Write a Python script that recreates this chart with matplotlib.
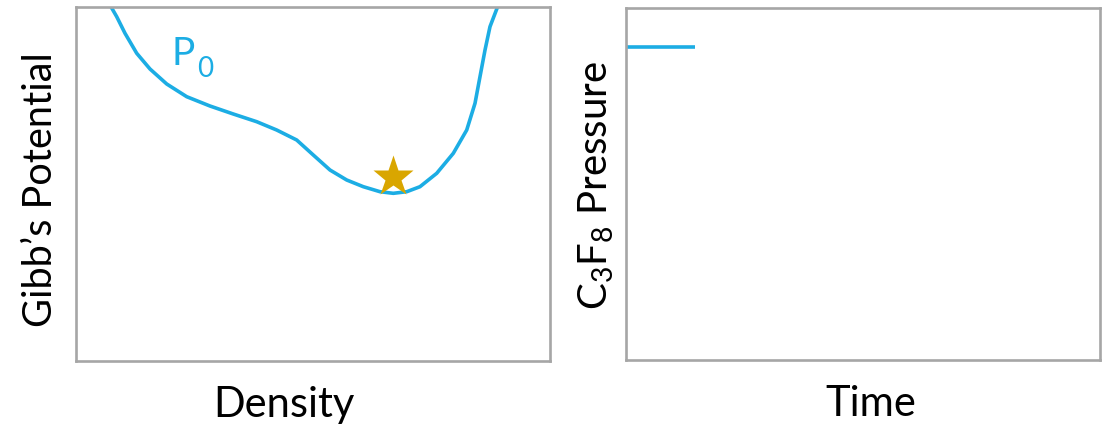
import matplotlib
matplotlib.use("Agg")
import matplotlib.pyplot as plt

plt.rcParams["font.family"] = ["Lato", "DejaVu Sans"]
plt.rcParams["mathtext.fontset"] = "custom"
plt.rcParams["mathtext.rm"] = "Lato"
plt.rcParams["mathtext.it"] = "Lato"
plt.rcParams["mathtext.default"] = "regular"

# Gibbs potential vs density at the initial pressure P0 (arbitrary units)
density = [0.0717, 0.0859, 0.1034, 0.1281, 0.1561, 0.1914, 0.2336, 0.2827,
           0.3319, 0.3812, 0.4234, 0.4656, 0.5006, 0.5359, 0.5711, 0.6061,
           0.6414, 0.6694, 0.6977, 0.7257, 0.7610, 0.7960, 0.8243, 0.8418,
           0.8523, 0.8629, 0.8734, 0.8909]
potential = [1.0056, 0.9726, 0.9257, 0.8692, 0.8249, 0.7825, 0.7466, 0.7203,
             0.6977, 0.6760, 0.6525, 0.6243, 0.5819, 0.5395, 0.5113, 0.4924,
             0.4782, 0.4737, 0.4782, 0.4924, 0.5302, 0.5867, 0.6525, 0.7280,
             0.8031, 0.8785, 0.9444, 1.0056]

# Stable state marker
star_density = 0.669
star_potential = 0.520

# C3F8 pressure history
time = [0.0, 0.146]
pressure = [0.89, 0.89]

curve_color = "#1CADE4"
star_color = "#D9A600"
frame_color = "#A6A6A6"

W, H = 1107, 432
fig = plt.figure(figsize=(W / 100, H / 100), dpi=100)

ax1 = fig.add_axes([76 / W, (H - 361) / H, 474 / W, 354 / H])
ax2 = fig.add_axes([626 / W, (H - 360) / H, 474 / W, 352 / H])

ax1.plot(density, potential, color=curve_color, lw=2.6,
         solid_joinstyle="round", solid_capstyle="butt", zorder=2)
ax1.plot([star_density], [star_potential], marker="*", ms=31,
         color=star_color, mec="none", zorder=3)

# Curve label: P with a lowered subscript 0
ax1.text(0.2025, 0.836, "P", color=curve_color, fontsize=28,
         ha="left", va="baseline", transform=ax1.transAxes)
ax1.text(0.2553, 0.802, "0", color=curve_color, fontsize=20,
         ha="left", va="baseline", transform=ax1.transAxes)

ax2.plot(time, pressure, color=curve_color, lw=2.6, solid_capstyle="butt")

for ax in (ax1, ax2):
    ax.set_xlim(0, 1)
    ax.set_ylim(0, 1)
    ax.set_xticks([])
    ax.set_yticks([])
    for sp in ax.spines.values():
        sp.set_color(frame_color)
        sp.set_linewidth(1.9)

ax1.set_xlabel("Density", fontsize=30, va="center")
ax1.xaxis.set_label_coords(0.439, -0.124)
ax1.set_ylabel("Gibb\u2019s Potential", fontsize=28.5, va="center")
ax1.yaxis.set_label_coords(-0.074, 0.483)

ax2.set_xlabel("Time", fontsize=30, va="center")
ax2.xaxis.set_label_coords(0.517, -0.126)
ax2.set_ylabel("C$_3$F$_8$ Pressure", fontsize=29, va="center")
ax2.yaxis.set_label_coords(-0.062, 0.497)

fig.savefig("out.png", dpi=100)
